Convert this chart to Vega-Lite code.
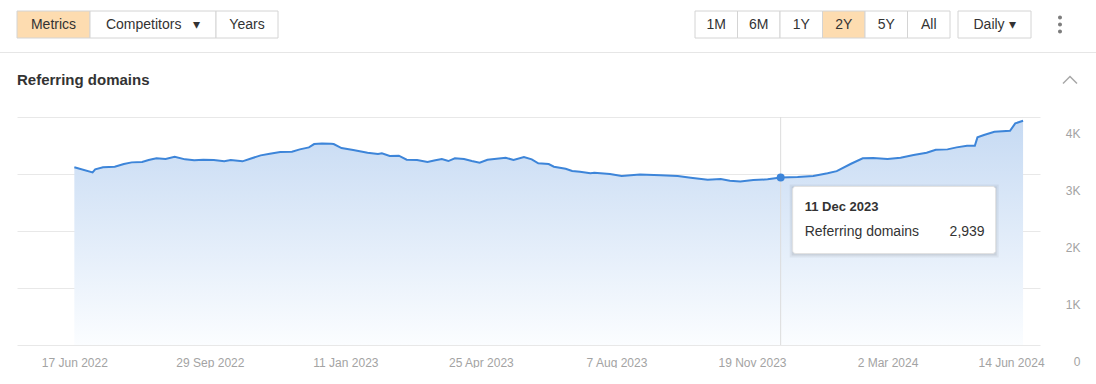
{
  "$schema": "https://vega.github.io/schema/vega-lite/v6.json",
  "background": "white",
  "padding": {"left": 0, "top": 10, "right": 0, "bottom": 0},
  "config": {"view": {"stroke": null}, "font": "Liberation Sans"},
  "datasets": {
    "series": [
      {"date": "2022-06-17", "value": 3117}, {"date": "2022-07-01", "value": 3029}, {"date": "2022-07-03", "value": 3082},
      {"date": "2022-07-09", "value": 3117}, {"date": "2022-07-18", "value": 3128}, {"date": "2022-07-25", "value": 3175},
      {"date": "2022-07-31", "value": 3204}, {"date": "2022-08-08", "value": 3210}, {"date": "2022-08-13", "value": 3245},
      {"date": "2022-08-19", "value": 3275}, {"date": "2022-08-26", "value": 3262}, {"date": "2022-09-02", "value": 3303},
      {"date": "2022-09-10", "value": 3257}, {"date": "2022-09-17", "value": 3240}, {"date": "2022-09-24", "value": 3251},
      {"date": "2022-10-02", "value": 3245}, {"date": "2022-10-10", "value": 3222}, {"date": "2022-10-15", "value": 3245},
      {"date": "2022-10-24", "value": 3222}, {"date": "2022-10-30", "value": 3268}, {"date": "2022-11-07", "value": 3327},
      {"date": "2022-11-14", "value": 3356}, {"date": "2022-11-22", "value": 3385}, {"date": "2022-12-01", "value": 3391},
      {"date": "2022-12-07", "value": 3432}, {"date": "2022-12-14", "value": 3467}, {"date": "2022-12-18", "value": 3525},
      {"date": "2022-12-24", "value": 3537}, {"date": "2022-12-31", "value": 3532}, {"date": "2023-01-02", "value": 3525},
      {"date": "2023-01-08", "value": 3455}, {"date": "2023-01-17", "value": 3420}, {"date": "2023-01-28", "value": 3373},
      {"date": "2023-02-05", "value": 3350}, {"date": "2023-02-08", "value": 3362}, {"date": "2023-02-14", "value": 3315},
      {"date": "2023-02-21", "value": 3321}, {"date": "2023-02-27", "value": 3251}, {"date": "2023-03-07", "value": 3245},
      {"date": "2023-03-15", "value": 3210}, {"date": "2023-03-21", "value": 3240}, {"date": "2023-03-26", "value": 3262},
      {"date": "2023-03-31", "value": 3227}, {"date": "2023-04-05", "value": 3275}, {"date": "2023-04-12", "value": 3262},
      {"date": "2023-04-18", "value": 3227}, {"date": "2023-04-24", "value": 3198}, {"date": "2023-04-30", "value": 3251},
      {"date": "2023-05-07", "value": 3268}, {"date": "2023-05-14", "value": 3286}, {"date": "2023-05-20", "value": 3245},
      {"date": "2023-05-28", "value": 3297}, {"date": "2023-06-03", "value": 3257}, {"date": "2023-06-08", "value": 3187},
      {"date": "2023-06-16", "value": 3175}, {"date": "2023-06-20", "value": 3128}, {"date": "2023-06-29", "value": 3093},
      {"date": "2023-07-04", "value": 3052}, {"date": "2023-07-10", "value": 3040}, {"date": "2023-07-18", "value": 3012},
      {"date": "2023-07-21", "value": 3020}, {"date": "2023-08-02", "value": 3000}, {"date": "2023-08-11", "value": 2964},
      {"date": "2023-08-25", "value": 2990}, {"date": "2023-09-10", "value": 2976}, {"date": "2023-09-23", "value": 2964},
      {"date": "2023-10-03", "value": 2935}, {"date": "2023-10-16", "value": 2900}, {"date": "2023-10-26", "value": 2912},
      {"date": "2023-11-02", "value": 2882}, {"date": "2023-11-10", "value": 2870}, {"date": "2023-11-20", "value": 2894},
      {"date": "2023-12-01", "value": 2906}, {"date": "2023-12-11", "value": 2939}, {"date": "2023-12-24", "value": 2947},
      {"date": "2024-01-05", "value": 2964}, {"date": "2024-01-16", "value": 3012}, {"date": "2024-01-23", "value": 3050},
      {"date": "2024-02-03", "value": 3180}, {"date": "2024-02-12", "value": 3275}, {"date": "2024-02-20", "value": 3280},
      {"date": "2024-03-02", "value": 3262}, {"date": "2024-03-12", "value": 3286}, {"date": "2024-03-22", "value": 3333},
      {"date": "2024-04-01", "value": 3373}, {"date": "2024-04-08", "value": 3426}, {"date": "2024-04-17", "value": 3432},
      {"date": "2024-04-24", "value": 3467}, {"date": "2024-05-02", "value": 3496}, {"date": "2024-05-08", "value": 3496},
      {"date": "2024-05-10", "value": 3643}, {"date": "2024-05-15", "value": 3684}, {"date": "2024-05-23", "value": 3741},
      {"date": "2024-06-04", "value": 3759}, {"date": "2024-06-08", "value": 3888}, {"date": "2024-06-14", "value": 3935}
    ],
    "buttons": [
      {"group": "metrics", "label": "Metrics", "active": true},
      {"group": "competitors", "label": "Competitors\u00a0\u00a0\u00a0▾", "active": false},
      {"group": "years", "label": "Years", "active": false},
      {"group": "range", "label": "1M", "active": false},
      {"group": "range", "label": "6M", "active": false},
      {"group": "range", "label": "1Y", "active": false},
      {"group": "range", "label": "2Y", "active": true},
      {"group": "range", "label": "5Y", "active": false},
      {"group": "range", "label": "All", "active": false},
      {"group": "interval", "label": "Daily\u00a0▾", "active": false},
      {"group": "menu", "label": "more", "active": false}
    ],
    "heading": [
      {"kind": "title", "label": "Referring domains"},
      {"kind": "chevron", "label": "collapse"}
    ]
  },
  "vconcat": [
    {
      "vconcat": [
        {
          "width": 1096,
          "height": 27,
          "data": {"name": "buttons"},
          "layer": [
            {
              "transform": [{"filter": "datum.group == 'metrics'"}],
              "encoding": {"x": {"field": "label", "type": "nominal", "axis": null,
                "scale": {"type": "band", "range": [17, 90], "paddingInner": 0, "paddingOuter": 0}}},
              "layer": [
                {"mark": {"type": "rect", "stroke": "#d4d4d4", "strokeWidth": 1},
                 "encoding": {"fill": {"condition": {"test": "datum.active", "value": "#fddcb0"}, "value": "#ffffff"}}},
                {"mark": {"type": "text", "fontSize": 14, "color": "#333333"}, "encoding": {"text": {"field": "label"}}}
              ]
            },
            {
              "transform": [{"filter": "datum.group == 'competitors'"}],
              "encoding": {"x": {"field": "label", "type": "nominal", "axis": null,
                "scale": {"type": "band", "range": [90, 216], "paddingInner": 0, "paddingOuter": 0}}},
              "layer": [
                {"mark": {"type": "rect", "stroke": "#d4d4d4", "strokeWidth": 1},
                 "encoding": {"fill": {"condition": {"test": "datum.active", "value": "#fddcb0"}, "value": "#ffffff"}}},
                {"mark": {"type": "text", "fontSize": 14, "color": "#333333"}, "encoding": {"text": {"field": "label"}}}
              ]
            },
            {
              "transform": [{"filter": "datum.group == 'years'"}],
              "encoding": {"x": {"field": "label", "type": "nominal", "axis": null,
                "scale": {"type": "band", "range": [216, 278], "paddingInner": 0, "paddingOuter": 0}}},
              "layer": [
                {"mark": {"type": "rect", "stroke": "#d4d4d4", "strokeWidth": 1},
                 "encoding": {"fill": {"condition": {"test": "datum.active", "value": "#fddcb0"}, "value": "#ffffff"}}},
                {"mark": {"type": "text", "fontSize": 14, "color": "#333333"}, "encoding": {"text": {"field": "label"}}}
              ]
            },
            {
              "transform": [{"filter": "datum.group == 'range'"}],
              "encoding": {"x": {"field": "label", "type": "nominal", "sort": null, "axis": null,
                "scale": {"type": "band", "domain": ["1M", "6M", "1Y", "2Y", "5Y", "All"], "range": [695, 950], "paddingInner": 0, "paddingOuter": 0}}},
              "layer": [
                {"mark": {"type": "rect", "stroke": "#d4d4d4", "strokeWidth": 1},
                 "encoding": {"fill": {"condition": {"test": "datum.active", "value": "#fddcb0"}, "value": "#ffffff"}}},
                {"mark": {"type": "text", "fontSize": 14, "color": "#333333"}, "encoding": {"text": {"field": "label"}}}
              ]
            },
            {
              "transform": [{"filter": "datum.group == 'interval'"}],
              "encoding": {"x": {"field": "label", "type": "nominal", "sort": null, "axis": null,
                "scale": {"type": "band", "range": [958, 1031], "paddingInner": 0, "paddingOuter": 0}}},
              "layer": [
                {"mark": {"type": "rect", "stroke": "#d4d4d4", "strokeWidth": 1, "fill": "#ffffff"}, "encoding": {}},
                {"mark": {"type": "text", "fontSize": 14, "color": "#333333"}, "encoding": {"text": {"field": "label"}}}
              ]
            },
            {
              "transform": [{"filter": "datum.group == 'menu'"}],
              "encoding": {"x": {"field": "label", "type": "nominal", "axis": null,
                "scale": {"type": "band", "range": [1050, 1070], "paddingInner": 0, "paddingOuter": 0}}},
              "layer": [
                {"mark": {"type": "point", "filled": true, "opacity": 1, "size": 4, "color": "#7d7d7d",
                  "shape": "M-2,-7A2,2 0 1 0 2,-7A2,2 0 1 0 -2,-7ZM-2,0A2,2 0 1 0 2,0A2,2 0 1 0 -2,0ZM-2,7A2,2 0 1 0 2,7A2,2 0 1 0 -2,7Z"},
                 "encoding": {}}
              ]
            }
          ],
          "resolve": {"scale": {"x": "independent"}}
        },
        {
          "width": 1096,
          "height": 1,
          "data": {"values": [{"line": "separator"}]},
          "mark": {"type": "rect", "color": "#e6e6e6"},
          "encoding": {}
        }
      ],
      "spacing": 13
    },
    {
      "hconcat": [
        {"width": 1, "height": 1, "data": {"values": []}, "mark": "point"},
        {
          "vconcat": [
            {
              "width": 1053,
              "height": 18,
              "data": {"name": "heading"},
              "encoding": {"x": {"field": "kind", "type": "nominal", "sort": null, "axis": null,
                "scale": {"type": "point", "domain": ["title", "chevron"], "padding": 0}}},
              "layer": [
                {"transform": [{"filter": "datum.kind == 'title'"}],
                 "mark": {"type": "text", "align": "left", "fontSize": 15, "fontWeight": "bold", "color": "#333333"},
                 "encoding": {"text": {"field": "label"}}},
                {"transform": [{"filter": "datum.kind == 'chevron'"}],
                 "mark": {"type": "point", "shape": "M-7,3.5L0,-3.5L7,3.5", "size": 4, "filled": false, "opacity": 1, "stroke": "#a8a8a8", "strokeWidth": 1.5},
                 "encoding": {}}
              ]
            },
            {
              "width": 1023,
              "height": 228,
              "data": {"name": "series"},
              "encoding": {
                "x": {"field": "date", "type": "temporal",
                  "scale": {"type": "utc", "domain": [{"year": 2022, "month": 5, "date": 4, "utc": true}, {"year": 2024, "month": 6, "date": 27, "utc": true}]},
                  "axis": {"title": null, "format": "%-d %b %Y", "labelColor": "#a3a3a3", "labelFontSize": 12, "labelPadding": 12,
                    "ticks": false, "tickSize": 0, "domain": false, "grid": false, "labelOverlap": false,
                    "labelFlush": 20, "labelFlushOffset": 21,
                    "values": [
                      {"year": 2022, "month": 6, "date": 17, "utc": true}, {"year": 2022, "month": 9, "date": 29, "utc": true},
                      {"year": 2023, "month": 1, "date": 11, "utc": true}, {"year": 2023, "month": 4, "date": 25, "utc": true},
                      {"year": 2023, "month": 8, "date": 7, "utc": true}, {"year": 2023, "month": 11, "date": 19, "utc": true},
                      {"year": 2024, "month": 3, "date": 2, "utc": true}, {"year": 2024, "month": 6, "date": 14, "utc": true}
                    ]}}
              },
              "layer": [
                {
                  "mark": {"type": "area", "color": {"gradient": "linear", "x1": 1, "y1": 1, "x2": 1, "y2": 0,
                    "stops": [{"offset": 0, "color": "#fbfdff"}, {"offset": 1, "color": "#c6daf3"}]}},
                  "encoding": {"y": {"field": "value", "type": "quantitative",
                    "scale": {"domain": [0, 4000], "nice": false},
                    "axis": {"orient": "right", "title": null, "values": [0, 1000, 2000, 3000, 4000],
                      "labelExpr": "datum.value == 0 ? '0' : (datum.value / 1000) + 'K'",
                      "labelAlign": "right", "labelBaseline": "middle", "labelOffset": 16, "labelPadding": 40,
                      "ticks": false, "tickSize": 0, "domain": false, "grid": true, "gridColor": "#e8e8e8",
                      "labelColor": "#a3a3a3", "labelFontSize": 12}}}
                },
                {
                  "transform": [{"filter": "datum.value == 2939"}],
                  "mark": {"type": "rule", "color": "#dcdcdc", "strokeWidth": 1},
                  "encoding": {}
                },
                {
                  "mark": {"type": "line", "color": "#3d85d9", "strokeWidth": 2},
                  "encoding": {"y": {"field": "value", "type": "quantitative"}}
                },
                {
                  "transform": [{"filter": "datum.value == 2939"}],
                  "mark": {"type": "point", "filled": true, "opacity": 1, "size": 64, "color": "#3d85d9"},
                  "encoding": {"y": {"field": "value", "type": "quantitative"}}
                },
                {
                  "transform": [{"filter": "datum.value == 2939"}],
                  "mark": {"type": "point", "filled": true, "opacity": 0.05, "size": 4, "color": "#000000",
                    "shape": "M9,7H218V80H9Z"},
                  "encoding": {"y": {"field": "value", "type": "quantitative"}}
                },
                {
                  "transform": [{"filter": "datum.value == 2939"}],
                  "mark": {"type": "point", "filled": true, "opacity": 0.07, "size": 4, "color": "#000000",
                    "shape": "M11,9H216V78H11Z"},
                  "encoding": {"y": {"field": "value", "type": "quantitative"}}
                },
                {
                  "transform": [{"filter": "datum.value == 2939"}],
                  "mark": {"type": "point", "filled": true, "opacity": 1, "size": 4, "fill": "#ffffff", "stroke": "#e2e2e2", "strokeWidth": 1,
                    "shape": "M15,9H212A3,3 0 0 1 215,12V73A3,3 0 0 1 212,76H15A3,3 0 0 1 12,73V12A3,3 0 0 1 15,9Z"},
                  "encoding": {"y": {"field": "value", "type": "quantitative"}}
                },
                {
                  "transform": [{"filter": "datum.value == 2939"}],
                  "mark": {"type": "text", "align": "left", "baseline": "middle", "dx": 24, "dy": 30, "fontSize": 13, "fontWeight": "bold", "color": "#333333"},
                  "encoding": {"y": {"field": "value", "type": "quantitative"},
                    "text": {"field": "date", "type": "temporal", "timeUnit": "utcyearmonthdate", "format": "%-d %b %Y"}}
                },
                {
                  "transform": [{"filter": "datum.value == 2939"}],
                  "mark": {"type": "text", "align": "left", "baseline": "middle", "dx": 24, "dy": 55, "fontSize": 14, "color": "#333333"},
                  "encoding": {"y": {"field": "value", "type": "quantitative"}, "text": {"value": "Referring domains"}}
                },
                {
                  "transform": [{"filter": "datum.value == 2939"}],
                  "mark": {"type": "text", "align": "right", "baseline": "middle", "dx": 204, "dy": 55, "fontSize": 14, "color": "#333333"},
                  "encoding": {"y": {"field": "value", "type": "quantitative"}, "text": {"field": "value", "type": "quantitative", "format": ","}}
                }
              ]
            }
          ],
          "spacing": 27
        }
      ],
      "spacing": 16
    }
  ],
  "spacing": 18
}
